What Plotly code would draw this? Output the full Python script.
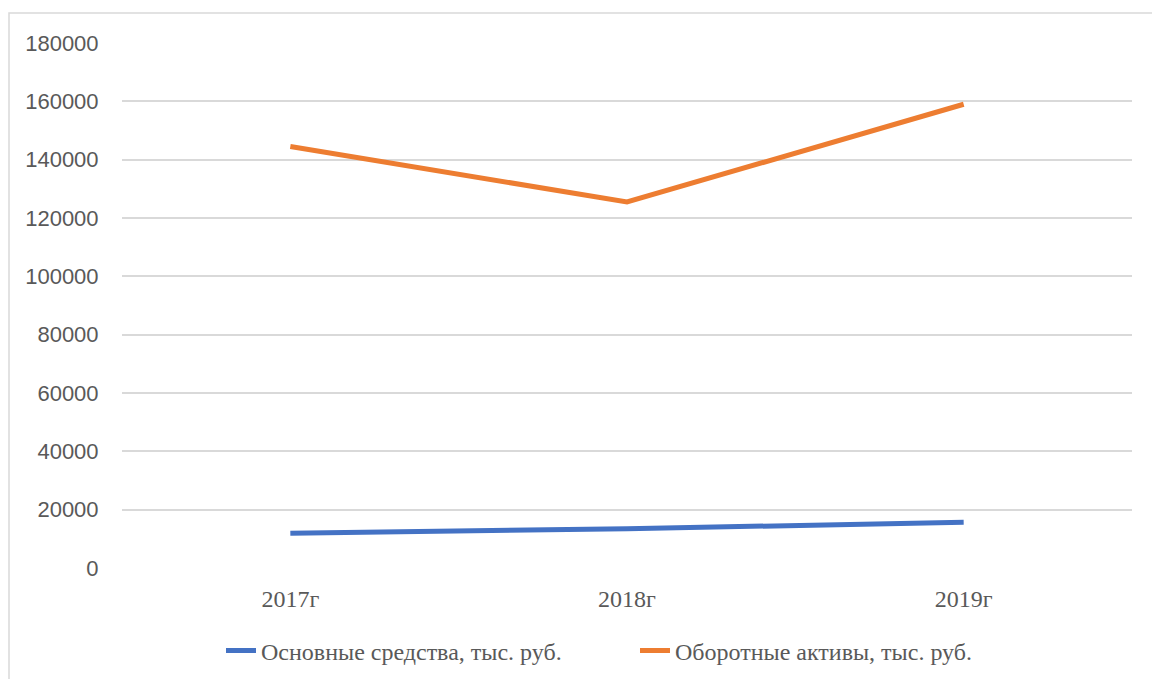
import plotly.graph_objects as go

# Years on the category axis
years = ["2017г", "2018г", "2019г"]

# Series values, thousand rubles
fixed_assets = [11900, 13450, 15700]
current_assets = [144500, 125500, 159000]

series_names = ["Основные средства, тыс. руб.", "Оборотные активы, тыс. руб."]
y_ticks = [0, 20000, 40000, 60000, 80000, 100000, 120000, 140000, 160000, 180000]

W, H = 1152, 679
L, R, T, B = 122, 20, 43, 111
pw, ph = W - L - R, H - T - B

fig = go.Figure()
fig.add_trace(go.Scatter(
    x=years, y=fixed_assets, name=series_names[0], mode="lines",
    line=dict(color="#4472C4", width=5),
))
fig.add_trace(go.Scatter(
    x=years, y=current_assets, name=series_names[1], mode="lines",
    line=dict(color="#ED7D31", width=5),
))

# Outer chart frame (runs off the right and bottom edges)
fig.add_shape(
    type="rect", xref="paper", yref="paper",
    x0=(9 - L) / pw, x1=(W + 20 - L) / pw,
    y0=(H - B - (H + 20)) / ph, y1=(H - B - 13) / ph,
    line=dict(color="#d9d9d9", width=1.5), fillcolor="rgba(0,0,0,0)",
    layer="below",
)

fig.update_layout(
    width=W, height=H,
    margin=dict(l=L, r=R, t=T, b=B, autoexpand=False),
    paper_bgcolor="white", plot_bgcolor="white",
    showlegend=True,
    legend=dict(
        orientation="h",
        xref="container", yref="container",
        x=221 / W, xanchor="left",
        y=(H - 651) / H, yanchor="middle",
        font=dict(family="Liberation Serif", size=24, color="#595959"),
        entrywidth=369, entrywidthmode="pixels",
        bgcolor="rgba(0,0,0,0)",
    ),
    xaxis=dict(
        type="category", range=[-0.5, 2.5],
        showgrid=False, showline=False, zeroline=False,
        ticks="outside", ticklen=9, tickcolor="rgba(0,0,0,0)",
        tickfont=dict(family="Liberation Serif", size=24, color="#595959"),
    ),
    yaxis=dict(
        range=[0, 180000], tickvals=y_ticks, ticktext=[str(v) for v in y_ticks],
        showgrid=True, gridcolor="#d9d9d9", gridwidth=1.5,
        zeroline=False, showline=False,
        ticks="outside", ticklen=18, tickcolor="rgba(0,0,0,0)",
        tickfont=dict(family="Liberation Sans", size=22, color="#595959"),
    ),
)

fig.write_html("out.html")
